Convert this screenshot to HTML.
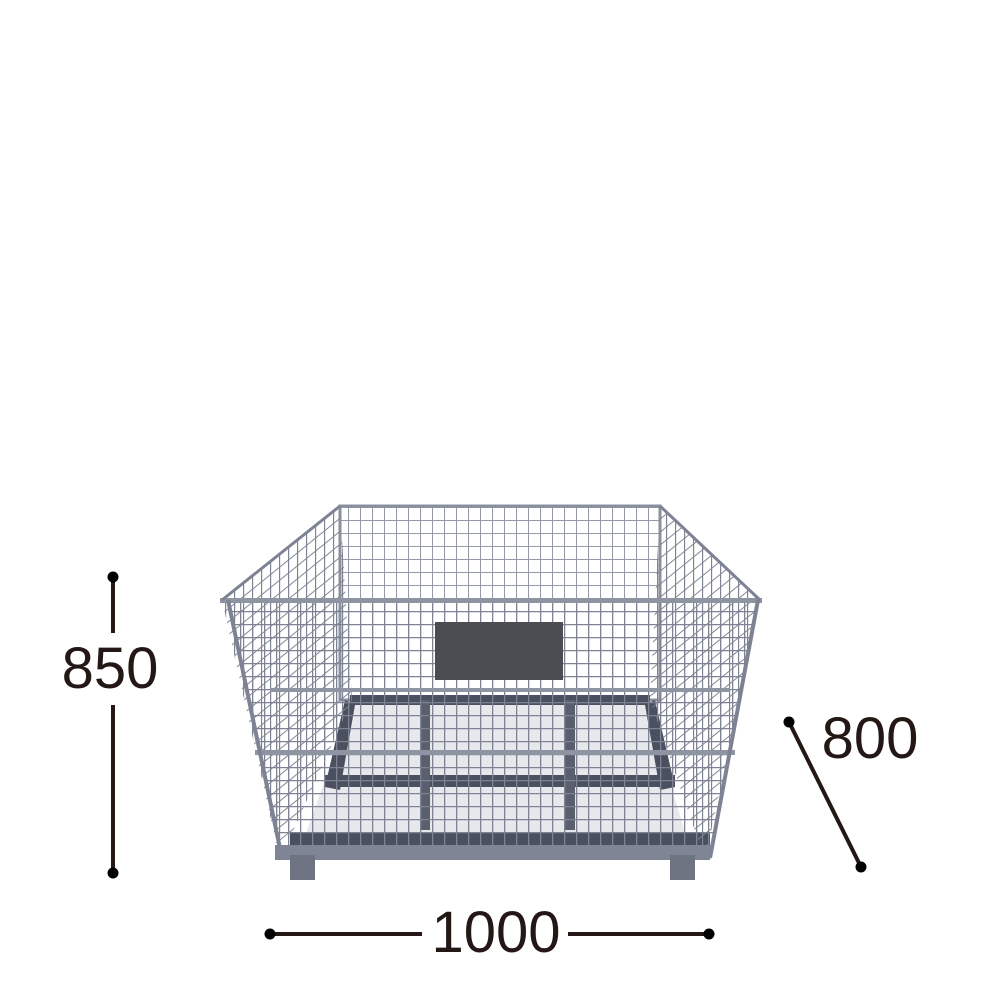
<!DOCTYPE html>
<html><head><meta charset="utf-8"><style>
html,body{margin:0;padding:0;background:#fff;width:1000px;height:1000px;overflow:hidden}
svg{display:block}
text{font-family:"Liberation Sans",sans-serif;fill:#231815}
</style></head><body>
<svg width="1000" height="1000" viewBox="0 0 1000 1000" xmlns="http://www.w3.org/2000/svg">
<defs>
<pattern id="g" width="12" height="13" patternUnits="userSpaceOnUse">
<path d="M0 0V13M0 0H12" stroke="#7d8392" stroke-width="2.6" fill="none"/>
</pattern>
<pattern id="gb" width="12" height="13" patternUnits="userSpaceOnUse">
<path d="M0 0V13M0 0H12" stroke="#959aa8" stroke-width="2" fill="none"/>
</pattern>
<pattern id="gs" width="9" height="13" patternUnits="userSpaceOnUse" patternTransform="skewY(-39)">
<path d="M0 0V13M0 0H9" stroke="#7d8392" stroke-width="2.4" fill="none"/>
</pattern>
</defs>
<!-- back panel -->
<polygon points="340,506 660,506 660,700 340,700" fill="url(#gb)" stroke="#8a909e" stroke-width="3"/>
<!-- floor frame -->
<polygon points="355,695 645,695 690,850 300,850" fill="#e6e8ec"/>
<rect x="350" y="695" width="300" height="10" fill="#4b5060"/>
<rect x="325" y="775" width="350" height="12" fill="#4b5060"/>
<rect x="290" y="833" width="420" height="12" fill="#4b5060"/>
<rect x="420" y="700" width="10" height="130" fill="#5a5f6d"/>
<rect x="565" y="700" width="10" height="130" fill="#5a5f6d"/>
<polygon points="355,705 340,790 325,787 345,700" fill="#4b5060"/>
<polygon points="645,705 660,790 675,787 655,700" fill="#4b5060"/>
<!-- side panels -->
<polygon points="222,600 340,506 352,700 280,860" fill="url(#gs)"/>
<polygon points="760,600 660,506 650,700 705,860" fill="url(#gs)"/>
<!-- front panel -->
<polygon points="228,600 758,600 710,858 282,858" fill="url(#g)"/>
<rect x="220" y="598" width="542" height="5" fill="#8e94a2"/>
<rect x="255" y="750" width="480" height="5" fill="#8e94a2"/>
<rect x="270" y="688" width="460" height="4" fill="#8e94a2"/>
<line x1="228" y1="600" x2="282" y2="858" stroke="#7d8392" stroke-width="4"/>
<line x1="758" y1="600" x2="710" y2="858" stroke="#7d8392" stroke-width="4"/>
<line x1="340" y1="506" x2="222" y2="600" stroke="#7d8392" stroke-width="3"/>
<line x1="660" y1="506" x2="760" y2="600" stroke="#7d8392" stroke-width="3"/>
<!-- base -->
<rect x="275" y="845" width="435" height="15" fill="#7f8594"/>
<rect x="290" y="855" width="25" height="25" fill="#6f7482"/>
<rect x="670" y="855" width="25" height="25" fill="#6f7482"/>
<!-- label -->
<rect x="435" y="622" width="128" height="58" fill="#4b4d53"/>
<!-- dimensions -->
<g stroke="#231815" stroke-width="4" fill="none">
<line x1="113" y1="577" x2="113" y2="633"/>
<line x1="113" y1="705" x2="113" y2="873"/>
<line x1="270" y1="934" x2="422" y2="934"/>
<line x1="568" y1="934" x2="709" y2="934"/>
<line x1="789" y1="722" x2="861" y2="867"/>
</g>
<g fill="#000">
<circle cx="113" cy="577" r="5.5"/><circle cx="113" cy="873" r="5.5"/>
<circle cx="270" cy="934" r="5.5"/><circle cx="709" cy="934" r="5.5"/>
<circle cx="789" cy="722" r="5.5"/><circle cx="861" cy="867" r="5.5"/>
</g>
<text x="110" y="688" font-size="58" text-anchor="middle">850</text>
<text x="496" y="952" font-size="58" text-anchor="middle">1000</text>
<text x="870" y="758" font-size="58" text-anchor="middle">800</text>
</svg>
</body></html>
